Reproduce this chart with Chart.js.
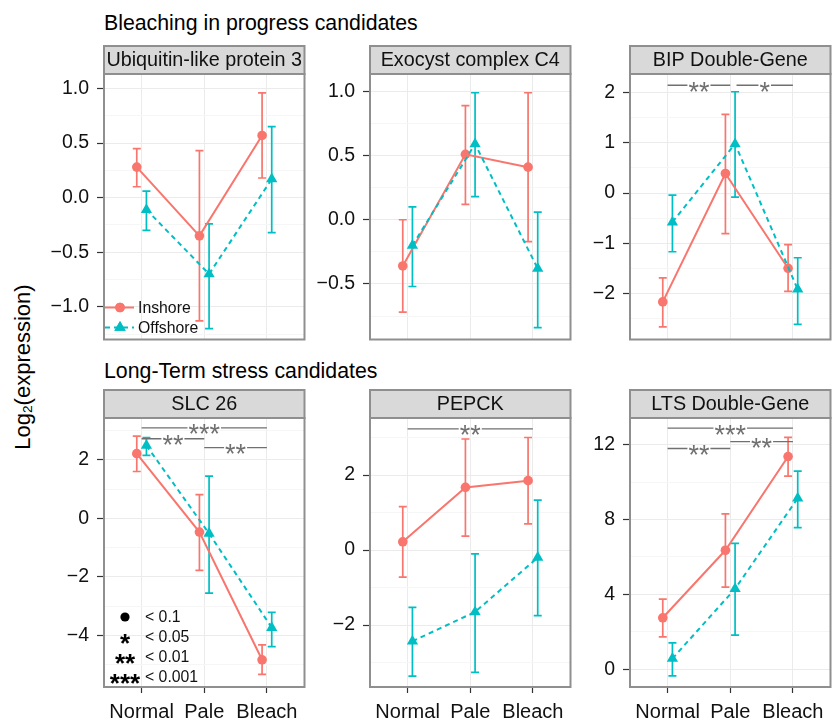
<!DOCTYPE html>
<html>
<head>
<meta charset="utf-8">
<script src="https://cdn.jsdelivr.net/npm/chart.js@4.4.0/dist/chart.umd.min.js"></script>
<style>
  html, body { margin: 0; padding: 0; background: #fff; }
  body { width: 833px; height: 721px; position: relative; overflow: hidden;
         font-family: "Liberation Sans", Arial, sans-serif; color: #000; }
  canvas { position: absolute; }
  .title { position: absolute; left: 104px; font-size: 21.3px; line-height: 21px; white-space: nowrap; }
  #ytitle { position: absolute; left: 24px; top: 367px; font-size: 22px; line-height: 22px; white-space: nowrap;
            transform: translate(-50%, -50%) rotate(-90deg); }
  #ytitle sub { font-size: 62%; vertical-align: baseline; position: relative; top: 0.12em; }
</style>
</head>
<body>
<div class="title" style="top:13px">Bleaching in progress candidates</div>
<div class="title" style="top:361px">Long-Term stress candidates</div>
<div id="ytitle">Log<sub>2</sub>(expression)</div>
<canvas id="p0"></canvas>
<canvas id="p1"></canvas>
<canvas id="p2"></canvas>
<canvas id="p3"></canvas>
<canvas id="p4"></canvas>
<canvas id="p5"></canvas>
<script>
// categories and panel names
var categories = ['Normal', 'Pale', 'Bleach'];
var panelNames = ['Ubiquitin-like protein 3', 'Exocyst complex C4', 'BIP Double-Gene',
                  'SLC 26', 'PEPCK', 'LTS Double-Gene'];

// mean, lower and upper error bar end for Normal / Pale / Bleach
var ubqIn    = [0.28, -0.35, 0.57];
var ubqInLo  = [0.10, -1.13, 0.18];
var ubqInHi  = [0.45, 0.43, 0.96];
var ubqOff   = [-0.11, -0.70, 0.17];
var ubqOffLo = [-0.30, -1.20, -0.32];
var ubqOffHi = [0.06, -0.24, 0.65];

var exoIn    = [-0.36, 0.51, 0.41];
var exoInLo  = [-0.72, 0.12, -0.17];
var exoInHi  = [0.00, 0.89, 0.99];
var exoOff   = [-0.20, 0.59, -0.38];
var exoOffLo = [-0.52, 0.18, -0.84];
var exoOffHi = [0.10, 0.99, 0.06];

var bipIn    = [-2.17, 0.39, -1.50];
var bipInLo  = [-2.67, -0.81, -1.96];
var bipInHi  = [-1.69, 1.57, -1.03];
var bipOff   = [-0.58, 0.98, -1.92];
var bipOffLo = [-1.17, -0.08, -2.62];
var bipOffHi = [-0.04, 2.02, -1.29];

var slcIn    = [2.21, -0.47, -4.84];
var slcInLo  = [1.60, -1.78, -5.34];
var slcInHi  = [2.81, 0.81, -4.33];
var slcOff   = [2.49, -0.52, -3.74];
var slcOffLo = [2.15, -2.56, -4.39];
var slcOffHi = [2.76, 1.44, -3.22];

var pepIn    = [0.22, 1.67, 1.85];
var pepInLo  = [-0.72, 0.37, 0.70];
var pepInHi  = [1.16, 2.96, 3.00];
var pepOff   = [-2.43, -1.65, -0.20];
var pepOffLo = [-3.36, -3.26, -1.75];
var pepOffHi = [-1.53, -0.10, 1.33];

var ltsIn    = [2.75, 6.36, 11.37];
var ltsInLo  = [1.73, 4.39, 10.32];
var ltsInHi  = [3.75, 8.30, 12.39];
var ltsOff   = [0.57, 4.30, 9.14];
var ltsOffLo = [-0.36, 1.82, 7.57];
var ltsOffHi = [1.41, 6.73, 10.59];

// significance brackets: from, to (category position), label, height
var bipSig = [[1, 2, '**', 2.15], [2.1, 3, '*', 2.15]];
var slcSig = [[1, 3, '***', 3.09], [1, 2, '**', 2.72], [2, 3, '**', 2.42]];
var pepSig = [[1, 3, '**', 3.23]];
var ltsSig = [[1, 3, '***', 12.89], [1, 2, '**', 11.8], [2, 3, '**', 12.17]];

// y axis limits, tick step and decimals
var yLimits = [[-1.30, 1.133], [-0.933, 1.136], [-2.92, 2.374], [-5.77, 3.43], [-3.65, 3.52], [-0.95, 13.43]];
var yStep   = [0.5, 0.5, 1, 2, 2, 4];
var yDigits = [1, 1, 0, 0, 0, 0];

// significance key
var keySymbols = ['\u25CF', '*', '**', '***'];
var keyLabels  = ['< 0.1', '< 0.05', '< 0.01', '< 0.001'];

var IN_COL = '#F8766D', OFF_COL = '#00BFC4';
var DODGE = 0.077;
var STRIP_H = 29, PLOT_W = 207, PLOT_H = 269, AXIS_W = 75;
var colLeft = [104, 370, 630];
var rowTop = [74, 418];
var FONT = '"Liberation Sans", Arial, sans-serif';

Chart.defaults.font.family = FONT;

var panels = [
  {inM: ubqIn, inLo: ubqInLo, inHi: ubqInHi, offM: ubqOff, offLo: ubqOffLo, offHi: ubqOffHi, sig: [], legend: true},
  {inM: exoIn, inLo: exoInLo, inHi: exoInHi, offM: exoOff, offLo: exoOffLo, offHi: exoOffHi, sig: []},
  {inM: bipIn, inLo: bipInLo, inHi: bipInHi, offM: bipOff, offLo: bipOffLo, offHi: bipOffHi, sig: bipSig},
  {inM: slcIn, inLo: slcInLo, inHi: slcInHi, offM: slcOff, offLo: slcOffLo, offHi: slcOffHi, sig: slcSig, key: true},
  {inM: pepIn, inLo: pepInLo, inHi: pepInHi, offM: pepOff, offLo: pepOffLo, offHi: pepOffHi, sig: pepSig},
  {inM: ltsIn, inLo: ltsInLo, inHi: ltsInHi, offM: ltsOff, offLo: ltsOffLo, offHi: ltsOffHi, sig: ltsSig}
];

function isMajor(v, step) {
  var r = v / step;
  return Math.abs(r - Math.round(r)) < 1e-6;
}
function fmt(v, d) {
  return (v < -1e-9 ? '\u2212' : '') + Math.abs(v).toFixed(d);
}

// error bars, brackets, legends, strip and border
var panelDecor = {
  id: 'panelDecor',
  beforeDatasetsDraw: function(chart, args, o) {
    var ctx = chart.ctx, xs = chart.scales.x, ys = chart.scales.y;
    var sets = [[o.p.inLo, o.p.inHi, -DODGE, IN_COL], [o.p.offLo, o.p.offHi, DODGE, OFF_COL]];
    ctx.save();
    ctx.lineWidth = 1.7;
    sets.forEach(function(s) {
      ctx.strokeStyle = s[3];
      for (var i = 0; i < categories.length; i++) {
        var x = xs.getPixelForValue(i + 1 + s[2]);
        var y1 = ys.getPixelForValue(s[0][i]), y2 = ys.getPixelForValue(s[1][i]);
        ctx.beginPath();
        ctx.moveTo(x, y1); ctx.lineTo(x, y2);
        ctx.moveTo(x - 4, y1); ctx.lineTo(x + 4, y1);
        ctx.moveTo(x - 4, y2); ctx.lineTo(x + 4, y2);
        ctx.stroke();
      }
    });
    ctx.restore();
  },
  afterDatasetsDraw: function(chart, args, o) {
    var ctx = chart.ctx, xs = chart.scales.x, ys = chart.scales.y, a = chart.chartArea;
    ctx.save();
    // brackets
    ctx.font = '27px ' + FONT;
    ctx.strokeStyle = '#707070';
    ctx.fillStyle = '#707070';
    ctx.lineWidth = 1.3;
    ctx.textAlign = 'center';
    ctx.textBaseline = 'alphabetic';
    o.p.sig.forEach(function(b) {
      var x1 = xs.getPixelForValue(b[0]), x2 = xs.getPixelForValue(b[1]);
      var y = ys.getPixelForValue(b[3]);
      var w = ctx.measureText(b[2]).width, mid = (x1 + x2) / 2;
      ctx.beginPath();
      ctx.moveTo(x1, y); ctx.lineTo(mid - w / 2 - 1, y);
      ctx.moveTo(mid + w / 2 + 1, y); ctx.lineTo(x2, y);
      ctx.stroke();
      ctx.fillText(b[2], mid, y + 15.5);
    });
    // series legend
    if (o.p.legend) {
      var rows = [[IN_COL, [], 'circle', 'Inshore', -32], [OFF_COL, [5, 4], 'triangle', 'Offshore', -12]];
      rows.forEach(function(r) {
        var y = a.bottom + r[4];
        ctx.strokeStyle = r[0]; ctx.fillStyle = r[0]; ctx.lineWidth = 2;
        ctx.setLineDash(r[1]);
        ctx.beginPath(); ctx.moveTo(a.left + 1, y); ctx.lineTo(a.left + 30, y); ctx.stroke();
        ctx.setLineDash([]);
        Chart.helpers.drawPoint(ctx, {pointStyle: r[2], radius: r[2] === 'circle' ? 4.8 : 6.5, borderWidth: 0}, a.left + 16, y);
        ctx.fill();
        ctx.fillStyle = '#111';
        ctx.font = '15.8px ' + FONT;
        ctx.textAlign = 'left'; ctx.textBaseline = 'middle';
        ctx.fillText(r[3], a.left + 34, y + 1);
      });
    }
    // significance key
    if (o.p.key) {
      keySymbols.forEach(function(s, i) {
        var y = a.bottom - 70 + i * 20;
        var cx = a.left + 21;
        ctx.fillStyle = '#000';
        if (i === 0) {
          ctx.beginPath(); ctx.arc(cx, y, 4.6, 0, Math.PI * 2); ctx.fill();
        } else {
          ctx.font = 'bold 26px ' + FONT;
          ctx.textAlign = 'center'; ctx.textBaseline = 'alphabetic';
          ctx.fillText(s, cx, y + 15);
        }
        ctx.font = '15.8px ' + FONT;
        ctx.textAlign = 'left'; ctx.textBaseline = 'middle';
        ctx.fillStyle = '#111';
        ctx.fillText(keyLabels[i], a.left + 41, y + 1);
      });
    }
    ctx.restore();
  },
  afterDraw: function(chart, args, o) {
    var ctx = chart.ctx, a = chart.chartArea;
    ctx.save();
    ctx.lineWidth = 2;
    ctx.strokeStyle = '#8f8f8f';
    ctx.fillStyle = '#d9d9d9';
    ctx.fillRect(a.left, a.top - STRIP_H + 1, a.right - a.left, STRIP_H - 1);
    ctx.strokeRect(a.left, a.top - STRIP_H + 1, a.right - a.left, STRIP_H - 1);
    ctx.strokeRect(a.left, a.top, a.right - a.left, a.bottom - a.top);
    ctx.fillStyle = '#111';
    ctx.font = '19.8px ' + FONT;
    ctx.textAlign = 'center'; ctx.textBaseline = 'middle';
    ctx.fillText(o.name, (a.left + a.right) / 2, a.top - STRIP_H / 2 + 1);
    ctx.restore();
  }
};

panels.forEach(function(p, k) {
  var row = Math.floor(k / 3), col = k % 3;
  var xAxisH = row === 0 ? 3 : 34;
  var canvas = document.getElementById('p' + k);
  canvas.width = AXIS_W + PLOT_W;
  canvas.height = STRIP_H + PLOT_H + xAxisH;
  canvas.style.width = canvas.width + 'px';
  canvas.style.height = canvas.height + 'px';
  canvas.style.left = (colLeft[col] - AXIS_W) + 'px';
  canvas.style.top = (rowTop[row] - STRIP_H) + 'px';

  var step = yStep[k], minor = step / 2;
  var lim = yLimits[k];

  new Chart(canvas.getContext('2d'), {
    type: 'line',
    data: {
      datasets: [{
        label: 'Inshore',
        data: p.inM.map(function(v, i) { return {x: i + 1 - DODGE, y: v}; }),
        borderColor: IN_COL, backgroundColor: IN_COL, borderWidth: 2,
        pointStyle: 'circle', pointRadius: 4.8, pointBorderWidth: 0,
        pointBackgroundColor: IN_COL, tension: 0, order: 1
      }, {
        label: 'Offshore',
        data: p.offM.map(function(v, i) { return {x: i + 1 + DODGE, y: v}; }),
        borderColor: OFF_COL, backgroundColor: OFF_COL, borderWidth: 2, borderDash: [5, 4],
        pointStyle: 'triangle', pointRadius: 6.5, pointBorderWidth: 0,
        pointBackgroundColor: OFF_COL, tension: 0, order: 0
      }]
    },
    options: {
      responsive: false,
      animation: false,
      events: [],
      layout: { padding: { top: STRIP_H, left: 0, right: 0, bottom: 0 } },
      plugins: {
        legend: { display: false },
        tooltip: { enabled: false },
        panelDecor: { p: p, name: panelNames[k] }
      },
      scales: {
        x: {
          type: 'linear', min: 0.4, max: 3.6,
          afterBuildTicks: function(s) {
            s.ticks = categories.map(function(c, i) { return {value: i + 1}; });
          },
          afterFit: function(s) { s.height = xAxisH; s.paddingLeft = 0; s.paddingRight = 0; },
          border: { display: false },
          grid: { color: '#ebebeb', lineWidth: 1, drawTicks: row === 1, tickLength: 6, tickColor: '#333', tickWidth: 1.2 },
          ticks: {
            display: row === 1, autoSkip: false, maxRotation: 0, padding: 7,
            color: '#111', font: { size: 20 },
            callback: function(v) { return categories[Math.round(v) - 1]; }
          }
        },
        y: {
          type: 'linear', min: lim[0], max: lim[1],
          afterBuildTicks: function(s) {
            var t = [];
            var k0 = Math.ceil(lim[0] / minor - 1e-9), k1 = Math.floor(lim[1] / minor + 1e-9);
            for (var j = k0; j <= k1; j++) t.push({value: j * minor});
            s.ticks = t;
          },
          afterFit: function(s) { s.width = AXIS_W; s.paddingTop = 0; s.paddingBottom = 0; },
          border: { display: false },
          grid: {
            lineWidth: 1, tickLength: 7, tickWidth: 1.2,
            color: function(c) { return c.tick && isMajor(c.tick.value, step) ? '#ebebeb' : '#f6f6f6'; },
            tickColor: function(c) { return c.tick && isMajor(c.tick.value, step) ? '#333' : 'rgba(0,0,0,0)'; }
          },
          ticks: {
            autoSkip: false, padding: 8, color: '#111', font: { size: 19.5 },
            callback: function(v) { return isMajor(v, step) ? fmt(v, yDigits[k]) : ''; }
          }
        }
      }
    },
    plugins: [panelDecor]
  });
});
</script>
</body>
</html>
